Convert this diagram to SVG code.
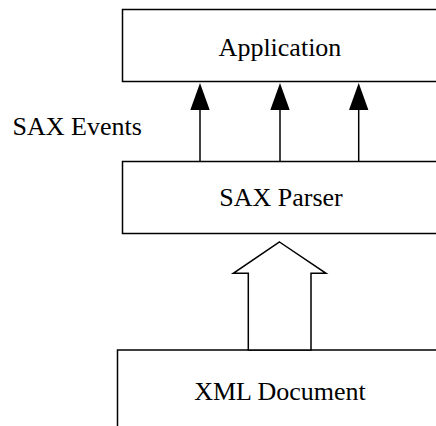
<svg xmlns="http://www.w3.org/2000/svg" width="436" height="426" viewBox="0 0 436 426">
<style>
.box{fill:#fff;stroke:#000;stroke-width:1.5}
.lbl{font-family:"Liberation Serif","Times New Roman",serif;font-size:26px;fill:#000}
.ln{stroke:#000;stroke-width:1.5;fill:none}
.head{fill:#000;stroke:none}
</style>
<g id="application">
<rect class="box" x="122.5" y="9.5" width="330" height="72"/>
<text class="lbl" x="280" y="56" text-anchor="middle">Application</text>
</g>
<g id="sax-parser">
<rect class="box" x="122.5" y="161.5" width="330" height="72"/>
<text class="lbl" x="281" y="206" text-anchor="middle">SAX Parser</text>
</g>
<g id="xml-document">
<rect class="box" x="117.5" y="350" width="330" height="90"/>
<text class="lbl" x="280" y="400" text-anchor="middle">XML Document</text>
</g>
<g id="sax-events-label">
<text class="lbl" x="12.5" y="135">SAX Events</text>
</g>
<g id="connectors">
<line class="ln" x1="200" y1="161" x2="200" y2="108"/>
<polygon class="head" points="200,83 190.3,110 209.7,110"/>
<line class="ln" x1="280" y1="161" x2="280" y2="108"/>
<polygon class="head" points="280,83 270.3,110 289.7,110"/>
<line class="ln" x1="358.7" y1="161" x2="358.7" y2="108"/>
<polygon class="head" points="358.7,83 349,110 368.4,110"/>
<polygon class="ln" style="fill:#fff" points="279.5,242 326,273.3 311,273.3 311,350 248.3,350 248.3,273.3 233.3,273.3"/>
</g>
</svg>
